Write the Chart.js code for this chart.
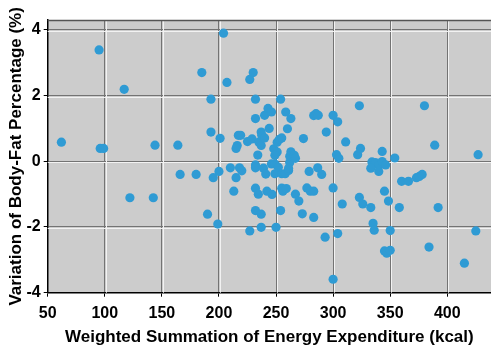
<!DOCTYPE html>
<html>
<head>
<meta charset="utf-8">
<script src="https://cdn.jsdelivr.net/npm/chart.js@4/dist/chart.umd.min.js"></script>
<style>
  html, body { margin: 0; padding: 0; background: #ffffff; }
  #wrap { width: 491px; height: 352px; position: relative; }
</style>
</head>
<body>
<div id="wrap"><canvas id="c" width="491" height="352"></canvas></div>
<script>
// Weighted summation of energy expenditure (kcal)
const xValues = [62,95,96,99,117,122,142.5,144,164,166,180,185,190,193,193,195,199,200,201,204,207,210,213,215,216,215,217,219,218,220,225,227,227,230,229,232,232,232,232,232,234.5,232,237,237,234,235,237,237,237.5,239,240,240,241,242,243,246,244,246,246.5,248,251,249,249,249,250,251,253,255,252,254,254,255,258,261,255,256,259,258.5,263,260,262,261,263,262,266,267,267,270,274,273,277,280,283,279,286.5,290,283,283,285,287,293,294,300,304,300,300,303,305,304,308,311,321.5,324,323,323,326,333,334,337,340,343,346,333,340,343,335,336,345,348.5,350,345,347,350,354,358,360,366,373,375.5,378,380,384,389,392,415,425,427];
// Variation of body-fat percentage (%)
const yValues = [0.58,3.39,0.39,0.39,2.19,-1.11,-1.11,0.49,0.49,-0.40,-0.40,2.70,-1.61,1.89,0.89,-0.50,-1.91,-0.31,0.70,3.90,2.40,-0.20,-0.91,-0.50,0.48,0.39,0.79,0.79,-0.20,-0.29,0.60,-2.12,2.49,2.70,0.68,1.89,1.30,-0.11,-0.20,-0.82,-1.00,-1.50,-1.61,-2.01,0.19,0.58,0.48,0.89,0.79,-0.21,1.40,0.71,-0.39,-0.91,1.61,1.50,1.00,-0.08,-1.01,0.38,0.28,0.18,-0.08,-0.38,-2.01,0.58,0.67,0.71,-0.18,1.89,-1.50,-0.38,-0.38,-0.28,-0.82,-0.91,-0.83,1.50,1.30,0.99,-0.04,-0.21,0.29,0.15,0.18,0.09,-1.00,-1.21,0.69,-1.60,-0.81,-0.91,-0.91,-0.31,-0.20,-0.40,-1.71,1.39,1.45,1.40,-2.31,0.89,1.40,1.20,-0.81,-3.59,0.20,0.09,-2.20,-1.30,0.59,0.20,0.39,1.69,-1.10,-1.30,-1.41,-0.02,-0.04,-0.13,-0.01,-0.11,-0.21,-0.31,0.30,-1.89,-2.10,-0.91,-1.21,-2.11,-2.73,-2.80,-2.71,0.10,-1.41,-0.61,-0.61,-0.50,-0.46,-0.40,1.69,-2.61,0.49,-1.41,-3.10,-2.12,0.20];

const xTickValues = [50,100,150,200,250,300,350,400];
const yTickValues = [-4,-2,0,2,4];

const xTitle = 'Weighted Summation of Energy Expenditure (kcal)';
const yTitle = 'Variation of Body-Fat Percentage (%)';

const points = xValues.map((x, i) => ({ x: x, y: yValues[i] }));

const plotDecor = {
  id: 'plotDecor',
  beforeDraw(chart) {
    const { ctx, chartArea: a } = chart;
    ctx.save();
    ctx.fillStyle = '#cccccc';
    ctx.fillRect(a.left, a.top, a.right - a.left, a.bottom - a.top);
    ctx.restore();
  },
  beforeDatasetsDraw(chart) {
    const { ctx, chartArea: a, scales } = chart;
    ctx.save();
    ctx.strokeStyle = '#f2f2f2';
    ctx.lineWidth = 1;
    xTickValues.forEach(v => {
      if (v === 50) return;
      const px = Math.round(scales.x.getPixelForValue(v)) + 1.5;
      ctx.beginPath(); ctx.moveTo(px, a.top); ctx.lineTo(px, a.bottom); ctx.stroke();
    });
    yTickValues.forEach(v => {
      if (v === -4) return;
      const py = Math.round(scales.y.getPixelForValue(v)) + 1.5;
      ctx.beginPath(); ctx.moveTo(a.left, py); ctx.lineTo(a.right, py); ctx.stroke();
    });
    ctx.strokeStyle = '#555555';
    ctx.lineWidth = 1.5;
    ctx.beginPath(); ctx.moveTo(a.left, a.top + 0.5); ctx.lineTo(a.right, a.top + 0.5); ctx.stroke();
    ctx.restore();
  }
};

const fontFamily = '"Liberation Sans", Arial, sans-serif';

new Chart(document.getElementById('c'), {
  type: 'scatter',
  data: {
    datasets: [{
      data: points,
      backgroundColor: '#2f9bd4',
      borderWidth: 0,
      pointRadius: 4.6,
      pointHoverRadius: 4.6
    }]
  },
  options: {
    responsive: false,
    animation: false,
    devicePixelRatio: 1,
    layout: { autoPadding: false, padding: { top: 20, right: 0, left: 0, bottom: 0 } },
    plugins: { legend: { display: false }, tooltip: { enabled: false } },
    scales: {
      x: {
        type: 'linear',
        min: 50,
        max: 438.3,
        afterBuildTicks(axis) { axis.ticks = xTickValues.map(v => ({ value: v })); },
        afterFit(axis) { axis.height = 59.3; axis.paddingLeft = 0; axis.paddingRight = 0; },
        ticks: { color: '#000', padding: 7, maxRotation: 0, font: { family: fontFamily, size: 16, weight: 'bold' } },
        grid: { color: '#737373', lineWidth: 1, tickLength: 4, tickColor: '#000', drawOnChartArea: true },
        border: { color: '#000', width: 1.5 },
        title: { display: true, text: xTitle, color: '#000', padding: { top: 0, bottom: 4.5 }, font: { family: fontFamily, size: 17, weight: 'bold' } }
      },
      y: {
        type: 'linear',
        min: -4,
        max: 4.3,
        afterBuildTicks(axis) { axis.ticks = yTickValues.map(v => ({ value: v })); },
        afterFit(axis) { axis.width = 47.7; axis.paddingTop = 0; axis.paddingBottom = 0; },
        ticks: { color: '#000', padding: 3, font: { family: fontFamily, size: 16, weight: 'bold' } },
        grid: { color: '#737373', lineWidth: 1, tickLength: 4, tickColor: '#000' },
        border: { color: '#000', width: 1.5 },
        title: { display: true, text: yTitle, color: '#000', padding: { top: 6.3, bottom: 0 }, font: { family: fontFamily, size: 17, weight: 'bold' } }
      }
    }
  },
  plugins: [plotDecor]
});
</script>
</body>
</html>
